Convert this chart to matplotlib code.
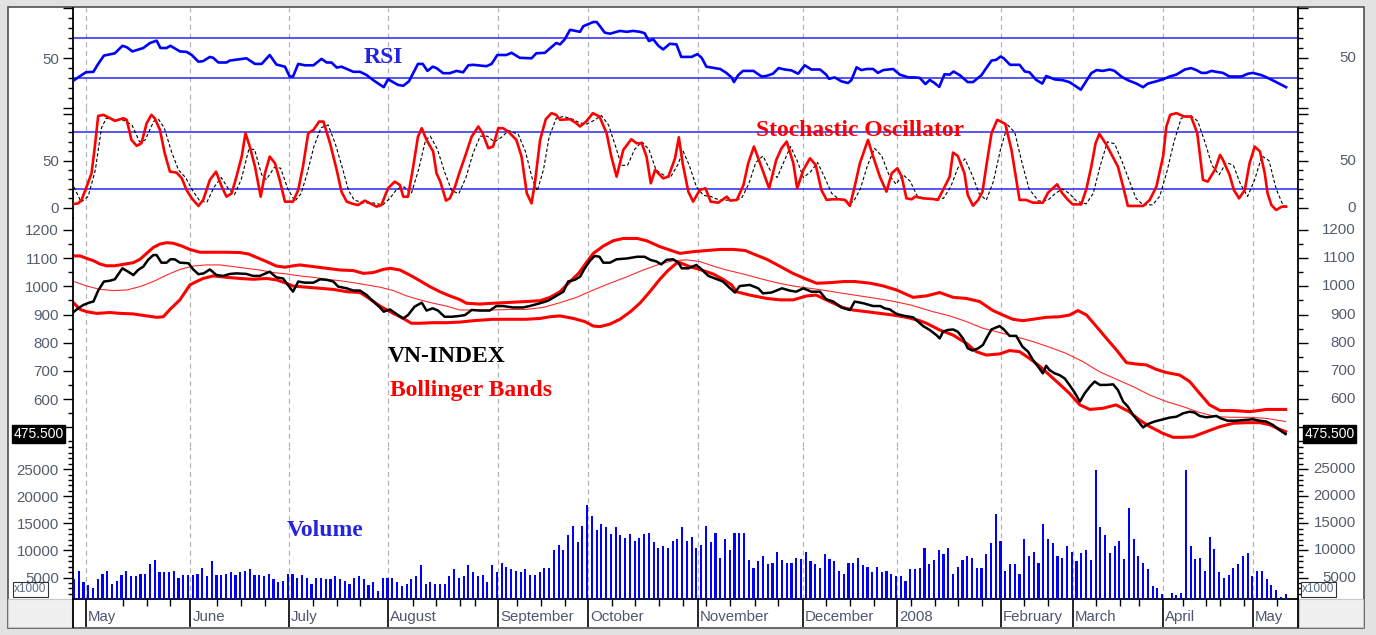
import numpy as np
import matplotlib.pyplot as plt
from matplotlib.patches import Rectangle
from matplotlib.lines import Line2D

plt.rcParams['font.family'] = ['Liberation Sans', 'DejaVu Sans']

# x axis: trading-day index (0 = first bar, late April 2007)
month_pos = [2.5, 24.5, 45.2, 66.1, 89.2, 108.2, 131.3, 153.4, 173.2, 195.1, 210.2, 229.2, 248.1]
month_names = ['May', 'June', 'July', 'August', 'September', 'October', 'November',
               'December', '2008', 'February', 'March', 'April', 'May']
week_pos = [10.4, 15.4, 20.3, 30.2, 35.2, 40.2, 50.3, 55.4, 60.2, 71.3, 76.2, 81.2, 84.3,
            93.2, 98.2, 103.3, 113.2, 118.0, 123.1, 128.1, 133.1, 138.0, 143.3, 148.1,
            158.2, 163.3, 168.3, 176.1, 181.2, 186.0, 191.0, 199.9, 204.9, 215.1, 220.1,
            224.1, 233.3, 238.2, 241.2, 246.2, 253.1]

# (day, value)
rsi = [(0, 27.8), (1.6, 32.9), (2.5, 35.7), (4.1, 36.2), (5.1, 44.1), (6.3, 52.4), (8.6, 54.7),
       (10.2, 62.2), (11.1, 60.8), (12.3, 56.6), (14.6, 60.0), (16.0, 65.0), (17.4, 67.3),
       (18.2, 60.0), (19.5, 60.0), (20.3, 62.2), (22.3, 56.6), (23.7, 56.1), (24.8, 53.0),
       (26.2, 46.3), (27.2, 46.9), (28.6, 51.1), (29.3, 50.2), (30.4, 45.5), (32.1, 45.5),
       (32.8, 47.4), (36.3, 49.7), (38.1, 44.1), (39.5, 44.1), (41.2, 53.0), (42.6, 43.5),
       (44.4, 41.3), (45.4, 31.5), (46.1, 31.5), (47.2, 44.1), (48.6, 42.7), (50.4, 42.7),
       (52.1, 49.1), (53.2, 45.5), (54.2, 45.5), (55.3, 40.4), (56.3, 41.3), (58.8, 36.2),
       (60.2, 36.2), (61.6, 32.9), (63.0, 27.8), (65.2, 20.8), (66.1, 28.7), (68.2, 23.1),
       (69.3, 22.2), (70.5, 26.7), (72.4, 44.1), (73.4, 44.1), (74.4, 37.1), (75.5, 41.3),
       (76.3, 39.9), (77.7, 34.8), (79.1, 34.8), (80.5, 37.1), (81.9, 35.7), (83.0, 42.7),
       (84.0, 43.2), (86.8, 41.8), (87.9, 44.1), (89.1, 53.0), (91.0, 53.0), (92.1, 55.2),
       (93.8, 50.2), (96.3, 49.7), (97.3, 54.7), (99.1, 55.2), (101.5, 65.0), (102.3, 63.6),
       (103.3, 68.7), (104.4, 78.2), (106.5, 76.2), (107.2, 81.8), (109.3, 86.0), (110.0, 86.0),
       (110.7, 81.8), (111.7, 75.4), (112.8, 74.3), (114.9, 77.1), (116.3, 76.2), (117.7, 77.1),
       (119.1, 76.2), (120.1, 74.8), (121.0, 67.0), (121.9, 68.7), (123.0, 62.2), (124.0, 58.6),
       (125.4, 64.2), (126.8, 63.6), (127.8, 51.1), (130.0, 51.1), (131.2, 53.9), (132.1, 50.2),
       (133.1, 41.3), (136.0, 39.0), (137.3, 35.1), (138.4, 30.6), (138.9, 25.9), (139.8, 32.9),
       (140.8, 37.1), (143.0, 37.1), (144.7, 31.5), (145.7, 32.0), (147.1, 34.3), (148.3, 39.9),
       (149.6, 38.5), (151.0, 37.6), (152.4, 34.3), (153.8, 42.7), (155.2, 38.5), (157.0, 38.5),
       (158.3, 33.4), (158.9, 29.2), (160.1, 30.6), (161.5, 26.7), (162.9, 25.0), (163.6, 27.8),
       (164.7, 40.7), (165.7, 37.9), (166.8, 39.0), (168.2, 39.0), (169.2, 35.1), (170.3, 37.9),
       (172.4, 39.0), (173.8, 33.4), (175.6, 30.6), (176.9, 30.6), (178.0, 30.1), (179.2, 23.9),
       (180.1, 28.1), (181.1, 25.0), (182.1, 21.1), (183.2, 33.7), (184.3, 33.4), (185.1, 36.5),
       (186.4, 32.9), (188.1, 25.9), (189.2, 25.9), (191.0, 32.9), (191.7, 37.9), (193.1, 47.4),
       (194.1, 48.2), (195.0, 51.5), (195.7, 49.6), (197.0, 43.2), (199.0, 43.2), (200.1, 36.5),
       (201.1, 35.7), (202.5, 28.1), (203.8, 24.4), (204.6, 32.0), (206.4, 28.6), (208.1, 27.8),
       (209.5, 25.9), (210.6, 22.5), (211.9, 18.3), (212.7, 24.4), (214.1, 34.8), (215.2, 37.9),
       (216.5, 37.1), (218.0, 38.5), (219.0, 37.1), (220.4, 31.5), (221.8, 27.8), (223.6, 24.4),
       (225.0, 20.8), (226.0, 24.4), (227.8, 26.7), (229.2, 28.7), (230.6, 31.5), (232.0, 33.4),
       (233.8, 38.5), (235.1, 39.9), (236.2, 37.9), (237.3, 35.1), (238.3, 35.1), (239.4, 37.1),
       (240.4, 36.2), (241.8, 35.1), (243.2, 31.5), (245.7, 31.5), (247.1, 34.3), (248.1, 35.1),
       (249.9, 32.9), (251.0, 30.6), (252.7, 26.7), (255.1, 20.8)]

stoch_k = [(0, 3.9), (0.9, 4.6), (1.6, 8.2), (2.8, 24.1), (3.7, 36.6), (4.4, 65.0), (5.1, 97.6),
           (6.2, 98.7), (7.6, 95.1), (8.6, 92.3), (10.4, 95.1), (11.1, 93.4), (12.1, 72.1),
           (13.2, 65.7), (14.2, 68.5), (15.3, 89.8), (16.3, 98.7), (17.0, 95.1), (18.1, 82.7),
           (19.1, 57.9), (20.2, 38.3), (21.6, 37.3), (22.7, 31.2), (23.7, 18.8), (24.8, 9.9),
           (26.2, 1.8), (27.2, 8.2), (28.6, 29.5), (29.9, 38.3), (31.1, 22.4), (32.1, 11.7),
           (33.2, 15.3), (34.2, 33.0), (35.3, 54.3), (36.1, 79.2), (37.0, 65.0), (38.1, 43.7),
           (39.3, 11.7), (40.2, 36.6), (41.2, 54.3), (42.3, 47.2), (43.3, 29.5), (44.4, 6.4),
           (46.1, 6.4), (47.2, 18.8), (48.2, 43.7), (49.3, 79.2), (50.4, 82.7), (51.6, 91.6),
           (52.5, 91.6), (53.9, 68.5), (55.3, 40.1), (56.3, 17.0), (57.4, 6.4), (58.8, 3.9),
           (59.8, 2.8), (61.2, 7.5), (62.3, 4.6), (63.7, 1.1), (64.7, 2.8), (66.1, 20.6),
           (67.5, 27.7), (68.6, 24.1), (69.3, 11.7), (70.3, 11.7), (71.4, 43.7), (72.4, 75.6),
           (73.2, 84.5), (74.2, 72.1), (75.6, 59.6), (76.3, 36.6), (77.1, 27.7), (78.3, 7.5),
           (79.1, 9.9), (80.2, 22.4), (81.2, 38.3), (82.3, 54.3), (83.7, 75.6), (85.1, 86.3),
           (86.0, 79.2), (87.2, 63.2), (88.2, 65.0), (89.3, 84.5), (90.3, 84.5), (91.4, 80.9),
           (93.1, 72.1), (94.2, 54.3), (95.3, 15.3), (96.3, 4.6), (97.0, 25.9), (98.1, 72.1),
           (99.3, 94.1), (100.5, 100.5), (101.5, 98.7), (102.3, 93.4), (104.4, 94.1),
           (105.7, 89.8), (106.5, 86.3), (107.8, 91.6), (109.2, 100.5), (110.6, 96.9),
           (112.1, 79.2), (113.1, 54.3), (114.2, 33.0), (115.6, 61.4), (117.3, 72.8),
           (118.4, 68.5), (119.5, 68.5), (120.5, 54.3), (121.4, 25.9), (122.3, 40.1),
           (124.0, 31.2), (125.1, 33.0), (126.5, 52.5), (127.3, 74.9), (128.1, 47.2),
           (129.3, 17.0), (130.3, 6.4), (131.7, 18.8), (132.9, 20.6), (134.0, 6.4), (135.6, 5.3),
           (137.4, 11.7), (138.1, 7.5), (139.5, 8.2), (140.9, 24.1), (141.9, 47.2), (143.1, 65.0),
           (144.4, 47.2), (146.3, 20.6), (147.8, 50.8), (148.9, 63.2), (150.0, 70.3),
           (151.4, 47.2), (152.2, 20.6), (153.5, 40.1), (154.9, 52.5), (156.1, 45.4),
           (157.3, 18.8), (158.4, 8.2), (159.5, 8.9), (161.2, 8.9), (162.3, 8.2), (163.3, 1.8),
           (164.3, 22.4), (165.4, 47.2), (167.1, 72.1), (168.2, 54.3), (169.6, 33.0),
           (171.0, 17.0), (172.1, 36.6), (173.3, 41.9), (174.2, 33.0), (175.2, 9.9), (176.3, 8.9),
           (177.0, 11.7), (178.7, 9.9), (180.8, 9.2), (181.8, 8.2), (182.9, 18.8), (184.3, 33.0),
           (185.0, 58.6), (186.0, 55.0), (187.4, 36.6), (188.1, 13.5), (189.2, 2.1), (190.3, 8.2),
           (191.2, 17.0), (192.1, 47.2), (193.1, 79.2), (194.3, 93.4), (196.0, 89.1),
           (197.3, 61.4), (199.0, 8.2), (200.4, 8.2), (201.8, 5.3), (203.9, 5.3), (205.0, 16.0),
           (206.0, 20.6), (206.9, 24.8), (208.0, 15.3), (209.2, 8.2), (210.2, 3.5), (212.0, 3.5),
           (213.1, 20.6), (214.1, 43.7), (215.0, 68.5), (215.8, 78.5), (217.3, 66.7),
           (218.6, 54.3), (219.7, 43.7), (220.8, 22.4), (221.8, 1.8), (225.0, 1.8), (226.4, 8.2),
           (227.8, 22.4), (229.2, 54.3), (229.9, 86.3), (230.7, 98.7), (232.0, 100.5),
           (233.7, 96.9), (235.1, 96.9), (236.4, 79.2), (237.6, 29.5), (238.6, 27.7),
           (240.1, 40.1), (241.2, 56.1), (241.8, 50.8), (243.2, 34.8), (244.1, 18.8), (245.2, 9.9),
           (246.4, 18.8), (247.4, 47.2), (248.5, 65.0), (249.6, 59.6), (250.6, 36.6),
           (251.2, 15.3), (252.0, 2.8), (253.0, -2.5), (254.2, 1.1), (255.1, 1.1)]

stoch_d = [(0, 22), (1.5, 6), (3, 12), (4.5, 40), (5.8, 85), (6.8, 95), (8.5, 94), (10.5, 93),
           (12.2, 88), (13.8, 70), (15, 72), (16.8, 92), (17.8, 94), (19, 85), (20.5, 60),
           (22, 40), (23.5, 32), (25, 18), (26.5, 7), (28, 6), (29.5, 22), (31, 32), (32.5, 20),
           (33.8, 14), (35.2, 30), (36.8, 62), (38, 62), (39.5, 35), (40.5, 30), (42.2, 43),
           (43.5, 42), (45, 20), (46.5, 7), (47.8, 15), (49, 35), (50.5, 65), (52, 85),
           (53.5, 88), (55, 68), (56.5, 42), (57.8, 18), (59, 8), (61, 5), (63, 5), (65, 3),
           (66.5, 10), (68, 20), (69.5, 22), (71, 15), (72.5, 40), (74, 72), (75, 76),
           (76.5, 62), (78, 38), (79.5, 18), (81, 15), (82.5, 32), (84, 58), (85.5, 76),
           (87, 76), (88.5, 70), (90, 75), (91.5, 82), (93.5, 78), (95, 60), (96.5, 30),
           (97.5, 18), (98.8, 40), (100, 75), (101.5, 95), (103, 97), (105, 94), (106.5, 90),
           (108, 89), (109.5, 93), (111, 98), (112.5, 88), (114, 65), (115.2, 45), (116.5, 45),
           (118, 62), (119.5, 70), (121, 62), (122.5, 40), (124, 35), (125.5, 32), (127, 45),
           (128.2, 60), (129.5, 45), (131, 22), (132.5, 13), (134, 12), (135.8, 8), (137.5, 8),
           (139, 8), (140.5, 10), (142, 25), (143.5, 48), (145, 55), (146.5, 40), (148, 32),
           (149.5, 50), (150.8, 65), (152.2, 50), (153.5, 32), (155, 38), (156.5, 48),
           (158, 32), (159.5, 15), (161, 9), (162.5, 7), (164, 6), (165.5, 20), (167, 45),
           (168.5, 63), (170, 55), (171.5, 35), (173, 25), (174.5, 35), (176, 28), (177.5, 12),
           (179, 10), (181, 9), (183, 10), (184.5, 22), (186, 42), (187.5, 52), (189, 35),
           (190.5, 15), (192, 8), (193.5, 28), (195, 62), (196.5, 88), (198, 80), (199.5, 48),
           (201, 20), (203, 7), (205, 8), (206.5, 15), (208, 20), (209.5, 15), (211, 7),
           (213, 4), (214.5, 15), (216, 45), (217.5, 70), (219, 68), (220.5, 50), (222, 30),
           (223.5, 10), (225, 3), (227, 3), (228.5, 12), (230, 38), (231.5, 70), (233, 95),
           (235, 98), (236.5, 92), (238, 70), (239.5, 45), (241, 35), (242.5, 48), (244, 45),
           (245.5, 25), (247, 12), (248.5, 30), (250, 55), (251.5, 50), (253, 20), (254.5, 2),
           (255.5, 1)]

close = [(0, 910), (0.9, 922), (2.0, 934), (3.2, 942), (4.1, 946), (5.1, 985), (6.3, 1017),
         (7.6, 1020), (8.6, 1025), (10.2, 1064), (11.4, 1052), (12.5, 1040), (13.5, 1058),
         (14.6, 1070), (15.6, 1094), (16.7, 1111), (17.4, 1111), (18.4, 1084), (19.5, 1084),
         (20.3, 1096), (21.2, 1096), (22.3, 1084), (24.1, 1082), (25.1, 1060), (26.2, 1043),
         (27.3, 1046), (28.6, 1060), (30.0, 1040), (31.4, 1037), (32.8, 1044), (34.2, 1046),
         (36.3, 1044), (37.7, 1037), (39.1, 1037), (41.2, 1052), (42.6, 1032), (44.0, 1028),
         (45.3, 999), (46.1, 981), (47.2, 1017), (48.6, 1013), (50.4, 1013), (51.8, 1025),
         (53.2, 1023), (54.6, 1017), (55.6, 999), (57.4, 993), (58.8, 985), (60.2, 985),
         (61.6, 969), (63.0, 946), (64.4, 925), (65.2, 910), (66.5, 918), (68.2, 898),
         (69.3, 886), (70.3, 898), (71.7, 928), (73.2, 942), (74.2, 914), (75.5, 922),
         (76.6, 914), (78.0, 892), (79.5, 892), (81.2, 895), (82.3, 898), (83.7, 916),
         (85.4, 914), (87.5, 914), (88.9, 930), (90.3, 930), (92.4, 925), (94.5, 925),
         (95.9, 930), (98.1, 940), (99.8, 949), (101.5, 966), (103.0, 981), (104.0, 1017),
         (105.4, 1023), (106.5, 1034), (107.5, 1064), (108.6, 1091), (109.6, 1108),
         (110.6, 1105), (111.4, 1084), (112.8, 1084), (114.2, 1096), (116.4, 1099),
         (118.5, 1105), (120.1, 1105), (121.3, 1094), (122.6, 1088), (123.6, 1078),
         (124.7, 1094), (126.1, 1096), (127.2, 1084), (127.9, 1064), (129.3, 1064),
         (131.0, 1076), (132.1, 1060), (133.5, 1037), (134.9, 1028), (136.6, 1017),
         (137.7, 999), (139.1, 978), (140.1, 1001), (142.2, 1005), (144.0, 993), (145.0, 975),
         (146.8, 978), (149.0, 993), (150.6, 985), (152.0, 981), (153.5, 993), (155.2, 981),
         (157.0, 981), (158.3, 954), (159.8, 946), (161.5, 925), (163.3, 916), (164.3, 946),
         (166.1, 940), (168.2, 930), (169.7, 930), (170.6, 922), (171.7, 918), (173.1, 902),
         (174.8, 895), (176.6, 890), (178.7, 859), (180.1, 845), (181.5, 827), (182.2, 815),
         (182.9, 839), (183.9, 845), (185.0, 847), (186.0, 839), (187.1, 815), (188.1, 780),
         (189.1, 772), (190.3, 780), (191.3, 792), (192.2, 821), (193.1, 847), (194.8, 859),
         (195.7, 847), (196.9, 824), (198.3, 824), (199.6, 786), (200.8, 768), (201.8, 739),
         (202.9, 715), (203.9, 691), (204.6, 718), (205.3, 703), (206.4, 691), (207.4, 685),
         (208.5, 673), (209.5, 650), (210.6, 623), (211.7, 591), (212.7, 620), (213.8, 644),
         (214.8, 662), (215.9, 650), (217.3, 650), (218.7, 652), (219.7, 632), (220.8, 591),
         (221.8, 573), (222.9, 543), (224.3, 514), (225.0, 499), (226.0, 511), (227.4, 520),
         (229.2, 528), (230.6, 534), (232.0, 537), (233.4, 549), (234.8, 555), (235.8, 552),
         (236.9, 540), (238.3, 535), (239.3, 537), (240.4, 540), (241.4, 531), (242.8, 523),
         (244.6, 523), (246.7, 526), (248.1, 528), (249.5, 523), (250.9, 520), (252.3, 508),
         (253.7, 490), (255.0, 475.5)]

bb_upper = [(0, 1108), (1.3, 1108), (2.7, 1099), (4.1, 1091), (5.5, 1079), (6.9, 1073), (8.6, 1073),
            (10.4, 1078), (12.5, 1084), (13.9, 1096), (15.3, 1117), (16.7, 1138), (18.1, 1150),
            (19.5, 1155), (20.9, 1153), (22.7, 1143), (24.4, 1131), (26.5, 1121), (29.3, 1121),
            (32.1, 1121), (34.9, 1120), (36.7, 1115), (38.4, 1103), (40.5, 1088), (42.6, 1072),
            (44.4, 1068), (45.8, 1072), (47.5, 1076), (50.4, 1070), (53.2, 1064), (56.0, 1058),
            (58.8, 1056), (60.9, 1046), (63.0, 1049), (65.1, 1060), (66.5, 1064), (68.6, 1058),
            (70.7, 1040), (72.8, 1020), (74.9, 999), (77.0, 981), (79.1, 966), (81.2, 953),
            (82.6, 940), (85.4, 937), (88.2, 940), (91.7, 943), (95.1, 946), (98.1, 949),
            (100.2, 961), (102.3, 981), (104.4, 1017), (106.2, 1046), (108.0, 1088),
            (109.3, 1117), (111.4, 1143), (113.5, 1162), (115.6, 1170), (118.5, 1170),
            (120.5, 1162), (123.3, 1141), (125.4, 1129), (127.5, 1117), (130.3, 1123),
            (133.1, 1127), (136.0, 1131), (138.8, 1131), (141.3, 1127), (143.0, 1115),
            (145.8, 1096), (148.7, 1070), (151.3, 1046), (154.2, 1025), (156.3, 1011),
            (159.1, 1013), (162.0, 1017), (164.4, 1017), (167.6, 1011), (170.4, 1001),
            (173.1, 987), (176.6, 961), (179.4, 966), (182.2, 978), (185.0, 961), (187.8, 957),
            (190.6, 946), (193.4, 914), (195.5, 898), (197.6, 883), (199.7, 878), (201.8, 883),
            (204.6, 890), (207.4, 892), (209.5, 898), (211.3, 914), (213.1, 898), (215.2, 857),
            (217.3, 815), (219.4, 774), (221.5, 729), (223.6, 724), (225.7, 721), (227.8, 705),
            (229.9, 694), (232.7, 685), (234.8, 662), (236.9, 620), (239.0, 579), (241.2, 559),
            (244.0, 559), (247.5, 555), (251.0, 563), (255.0, 563)]

bb_mid = [(0, 1017), (2.7, 1001), (5.5, 989), (8.3, 985), (11.1, 987), (13.9, 999), (16.7, 1017),
          (19.5, 1040), (22.3, 1060), (25.1, 1072), (27.9, 1076), (30.7, 1076), (33.5, 1070),
          (36.3, 1064), (39.1, 1058), (41.9, 1049), (44.7, 1044), (47.5, 1037), (50.4, 1032),
          (53.2, 1025), (56.0, 1020), (58.8, 1013), (61.6, 1005), (64.4, 997), (67.2, 985),
          (70.0, 966), (72.8, 952), (75.6, 940), (78.4, 930), (81.2, 916), (84.7, 916),
          (88.2, 916), (91.7, 918), (95.1, 918), (98.7, 925), (102.3, 942), (105.8, 961),
          (109.3, 987), (112.8, 1011), (116.4, 1034), (119.8, 1058), (123.3, 1079),
          (126.1, 1091), (128.9, 1094), (131.7, 1088), (134.5, 1072), (137.3, 1058),
          (140.8, 1044), (144.3, 1028), (147.8, 1013), (151.4, 1001), (154.9, 993), (158.3, 985),
          (161.9, 975), (165.4, 966), (168.9, 957), (172.4, 947), (176.0, 934), (180.8, 910),
          (184.3, 895), (187.8, 875), (191.3, 851), (194.8, 836), (198.3, 821), (201.8, 804),
          (205.3, 784), (208.8, 762), (212.3, 733), (215.8, 697), (219.4, 670), (222.9, 644),
          (226.4, 614), (229.9, 591), (233.4, 573), (236.9, 552), (240.4, 537), (244.0, 535),
          (247.5, 535), (251.0, 531), (255.0, 520)]

bb_lower = [(0, 940), (1.3, 918), (2.7, 910), (4.8, 904), (7.6, 907), (9.7, 904), (12.5, 902),
            (15.3, 895), (17.4, 890), (18.8, 892), (20.2, 918), (22.3, 952), (24.4, 1005),
            (25.8, 1017), (27.2, 1028), (29.3, 1037), (32.1, 1032), (34.9, 1028), (37.7, 1025),
            (40.5, 1028), (42.6, 1023), (44.7, 1011), (46.1, 1001), (48.9, 997), (51.8, 993),
            (54.6, 989), (57.4, 981), (60.2, 978), (61.6, 963), (64.4, 930), (67.2, 904),
            (69.3, 886), (71.0, 869), (72.8, 869), (75.6, 871), (78.4, 871), (81.2, 873),
            (84.0, 878), (88.2, 883), (91.7, 883), (95.1, 883), (98.1, 886), (100.2, 892),
            (102.3, 895), (105.1, 886), (107.5, 875), (109.3, 859), (110.7, 857), (112.8, 866),
            (114.9, 883), (117.1, 910), (119.1, 940), (121.2, 981), (123.3, 1025), (125.0, 1056),
            (126.8, 1082), (127.5, 1084), (129.6, 1070), (131.7, 1060), (134.5, 1044),
            (136.6, 1025), (138.4, 1005), (139.4, 981), (142.2, 969), (145.8, 957), (148.6, 952),
            (151.4, 952), (154.2, 966), (156.2, 969), (158.3, 952), (161.8, 925), (163.9, 916),
            (166.8, 910), (169.6, 904), (172.4, 898), (175.2, 890), (178.0, 878), (179.4, 869),
            (182.2, 845), (185.0, 827), (187.8, 798), (189.9, 768), (192.0, 756), (194.8, 760),
            (196.9, 772), (199.0, 768), (201.1, 744), (203.2, 717), (205.3, 685), (207.4, 653),
            (209.5, 620), (211.7, 579), (213.8, 563), (216.5, 567), (219.3, 579), (222.1, 555),
            (224.2, 526), (226.4, 502), (229.2, 478), (231.3, 464), (233.4, 464), (235.5, 466),
            (238.3, 484), (241.2, 502), (244.0, 514), (246.8, 516), (249.6, 516), (251.7, 508),
            (253.8, 492), (255.0, 484)]

# daily volume (x1000), one bar per trading day
volume = [4700, 6200, 4200, 3700, 3000, 4700, 5700, 6200, 3900, 4400,
          5500, 6200, 5200, 5200, 5700, 5700, 7500, 8200, 6000, 6000,
          6000, 6200, 5000, 5500, 5500, 5500, 5700, 6700, 5200, 8000,
          5500, 5500, 5700, 6000, 5500, 6000, 6200, 6500, 5500, 5500,
          5200, 5700, 4700, 4200, 4400, 5700, 5700, 5000, 5500, 5000,
          3900, 5000, 5000, 4700, 4700, 5200, 4700, 4400, 3900, 5000,
          5200, 4700, 3700, 4200, 2500, 5000, 5000, 5000, 4200, 3400,
          3900, 4700, 5200, 7300, 3900, 4200, 3900, 3900, 3900, 5200,
          6500, 5000,
          5200, 7300, 6000, 5200, 5500, 4200, 7300, 6000, 7700, 7000,
          6500, 6200, 6000, 6500, 5500, 5500, 6000, 6700, 6700, 10000,
          11000, 10000, 12800, 14500, 11500, 14500, 18300, 16300, 13800, 14800,
          14300, 13000, 14300, 12800, 12300, 13000, 11700, 12300, 13000, 13300,
          11500, 10500, 10800, 10500, 11700, 12100, 14300, 11700, 12500, 10500,
          11000, 14500, 11500, 13300, 8700, 12100, 10000, 13300, 13300, 13300,
          8200, 6700, 8000, 9000, 7500, 7700, 9800, 8200, 7700, 7700,
          8700, 8500, 9800, 8000, 7500, 6800, 9300, 8500, 8000, 6200,
          5700, 7700, 7700, 8700, 7300, 7000, 6000, 7000, 6000, 6200,
          5700, 5200,
          5200, 4400, 6500, 6500, 6700, 10500, 7500, 8200, 10000, 9300,
          10500, 5700, 7000, 8200, 9000, 8700, 6800, 6800, 9300, 11300,
          16800, 11700, 6200, 7500, 7500, 5700, 12100, 9000, 9800, 7700,
          14800, 12100, 11300, 9000, 8700, 10800, 9800, 8000, 9500, 10000,
          8200, 24800, 14300, 12800, 9500, 10800, 11700, 8500, 17800, 12100,
          9000, 7700, 6500, 3400, 3000, 2000, 800, 2200, 1700, 2200,
          24800, 10800, 8500, 8700, 6200, 12500, 10300, 6000, 5000, 5500,
          6800, 7500, 9000, 9500, 5200, 6200, 6200, 4700, 3700, 2700,
          1500, 2000]

W, H = 1376, 635
X0, X1 = 73, 1298          # plot area left / right (px)


def fx(px):
    return px / W


def fy(py):
    return 1 - py / H


fig = plt.figure(figsize=(W / 100, H / 100), dpi=100, facecolor='#e2e2e2')
fig.patches.append(Rectangle((fx(8), fy(628)), 1356 / W, 621 / H, transform=fig.transFigure,
                             fc='white', ec='#505050', lw=1.2, zorder=-10))
for gx in (8, 1299):
    fig.patches.append(Rectangle((fx(gx), fy(627)), 64 / W, 28 / H, transform=fig.transFigure,
                                 fc='#f0f0f0', ec='#c8c8c8', lw=0.8, zorder=-9))

lab_color = '#535d6c'
serif = ['Liberation Serif', 'DejaVu Serif']


def panel(top, bottom):
    ax = fig.add_axes([fx(X0), fy(bottom), (X1 - X0) / W, (bottom - top) / H])
    ax.set_xlim(-0.2, 257.6)
    ax.set_facecolor('none')
    ax.spines['top'].set_visible(False)
    ax.spines['bottom'].set_visible(False)
    ax.spines['left'].set_linewidth(1.3)
    ax.spines['right'].set_linewidth(1.3)
    ax.tick_params(axis='x', which='both', bottom=False, labelbottom=False)
    for m in month_pos:
        ax.axvline(m, color='#b4b4b4', lw=0.9, ls=(0, (4, 3)), zorder=0)
    return ax


def yaxis(ax, ylim, major, minor, labels):
    ax.set_ylim(*ylim)
    ax.set_yticks(major, labels=labels)
    ax.set_yticks(minor, minor=True)
    ax.tick_params(axis='y', which='both', direction='out', left=True, right=True,
                   width=1.0, labelsize=10.8, labelcolor=lab_color)
    ax.tick_params(axis='y', which='major', length=7.2, pad=2.9)
    ax.tick_params(axis='y', which='minor', length=3.6)
    tr = ax.get_yaxis_transform()
    for v, lab in zip(major, labels):
        if lab and ylim[0] <= v <= ylim[1]:
            ax.text(1 + 58 / (X1 - X0), v, lab, transform=tr, ha='right', va='center',
                    fontsize=10.8, color=lab_color, clip_on=False)


def xy(pts):
    a = np.array(pts, dtype=float)
    return a[:, 0], a[:, 1]


# RSI
ax_rsi = panel(8, 108)
yaxis(ax_rsi, (9.3, 93.2), [0, 50, 100], list(range(10, 100, 10)), ['', '50', ''])
for lvl in (70, 30):
    ax_rsi.axhline(lvl, color='#2626ff', lw=1.1, zorder=1)
ax_rsi.plot(*xy(rsi), color='#0000ff', lw=1.9, zorder=3)

# Stochastic
ax_sto = panel(108, 218)
yaxis(ax_sto, (-11, 106), [0, 50, 100], list(range(10, 100, 10)), ['0', '50', ''])
for lvl in (80, 20):
    ax_sto.axhline(lvl, color='#2626ff', lw=1.1, zorder=1)
ax_sto.plot(*xy(stoch_d), color='black', lw=0.8, ls=(0, (3, 2)), zorder=2)
ax_sto.plot(*xy(stoch_k), color='#ff0000', lw=1.9, zorder=3)

# Price with Bollinger Bands
ax_px = panel(218, 447)
yaxis(ax_px, (429.6, 1242.6), list(range(500, 1300, 100)), list(range(450, 1250, 50)),
      [''] + [str(v) for v in range(600, 1300, 100)])
ax_px.plot(*xy(bb_mid), color='#ff2a2a', lw=0.8, zorder=2)
ax_px.plot(*xy(bb_upper), color='#ff0000', lw=2.2, zorder=2)
ax_px.plot(*xy(bb_lower), color='#ff0000', lw=2.2, zorder=2)
ax_px.plot(*xy(close), color='black', lw=1.8, zorder=4)
last = close[-1][1]
tr = ax_px.get_yaxis_transform()
for cx in (38.5, 1329.5):
    ax_px.text((cx - X0) / (X1 - X0), last, f'{last:.3f}', transform=tr, ha='center',
               va='center', color='white', fontsize=10,
               bbox=dict(boxstyle='square,pad=0.12', fc='black', ec='black'),
               clip_on=False, zorder=10)

# Volume
ax_vol = panel(447, 599)
yaxis(ax_vol, (1046, 29090), list(range(5000, 30000, 5000)), list(range(2000, 30000, 1000)),
      [str(v) for v in range(5000, 30000, 5000)])
ax_vol.bar(np.arange(len(volume)), volume, width=0.45, color='#0000ff', zorder=3)
ax_vol.spines['bottom'].set_visible(True)
ax_vol.spines['bottom'].set_linewidth(1.3)
ax_vol.set_xticks(month_pos)
ax_vol.set_xticks(week_pos, minor=True)
ax_vol.tick_params(axis='x', which='major', bottom=True, length=20, width=1.2, labelbottom=False)
ax_vol.tick_params(axis='x', which='minor', bottom=True, length=5, width=1.0)
xt = ax_vol.get_xaxis_transform()
for m, name in zip(month_pos, month_names):
    ax_vol.text(m + 0.45, -0.145, name, transform=xt, ha='left', va='baseline',
                fontsize=10.8, color='#4e5670', clip_on=False)

# spines continue into the date strip
for sx in (X0, X1):
    fig.add_artist(Line2D([fx(sx), fx(sx)], [fy(599), fy(627)], transform=fig.transFigure,
                          color='black', lw=1.3))

for bx in (30.5, 1318.5):
    fig.text(fx(bx), fy(589.5), 'x1000', ha='center', va='center', fontsize=8.5,
             color='#5a6a8a',
             bbox=dict(boxstyle='square,pad=0.15', fc='white', ec='#333333', lw=0.8))

# chart titles
fig.text(fx(383), fy(63), 'RSI', ha='center', va='baseline', family=serif,
         weight='bold', size=17, color='#2424e0')
fig.text(fx(860), fy(136), 'Stochastic Oscillator', ha='center', va='baseline', family=serif,
         weight='bold', size=17, color='#ff0000')
fig.text(fx(388), fy(362), 'VN-INDEX', ha='left', va='baseline', family=serif,
         weight='bold', size=17, color='black')
fig.text(fx(390), fy(396), 'Bollinger Bands', ha='left', va='baseline', family=serif,
         weight='bold', size=17, color='#ff0000')
fig.text(fx(287), fy(536), 'Volume', ha='left', va='baseline', family=serif,
         weight='bold', size=17, color='#2424e0')

fig.savefig('out.png', dpi=100, facecolor=fig.get_facecolor())
